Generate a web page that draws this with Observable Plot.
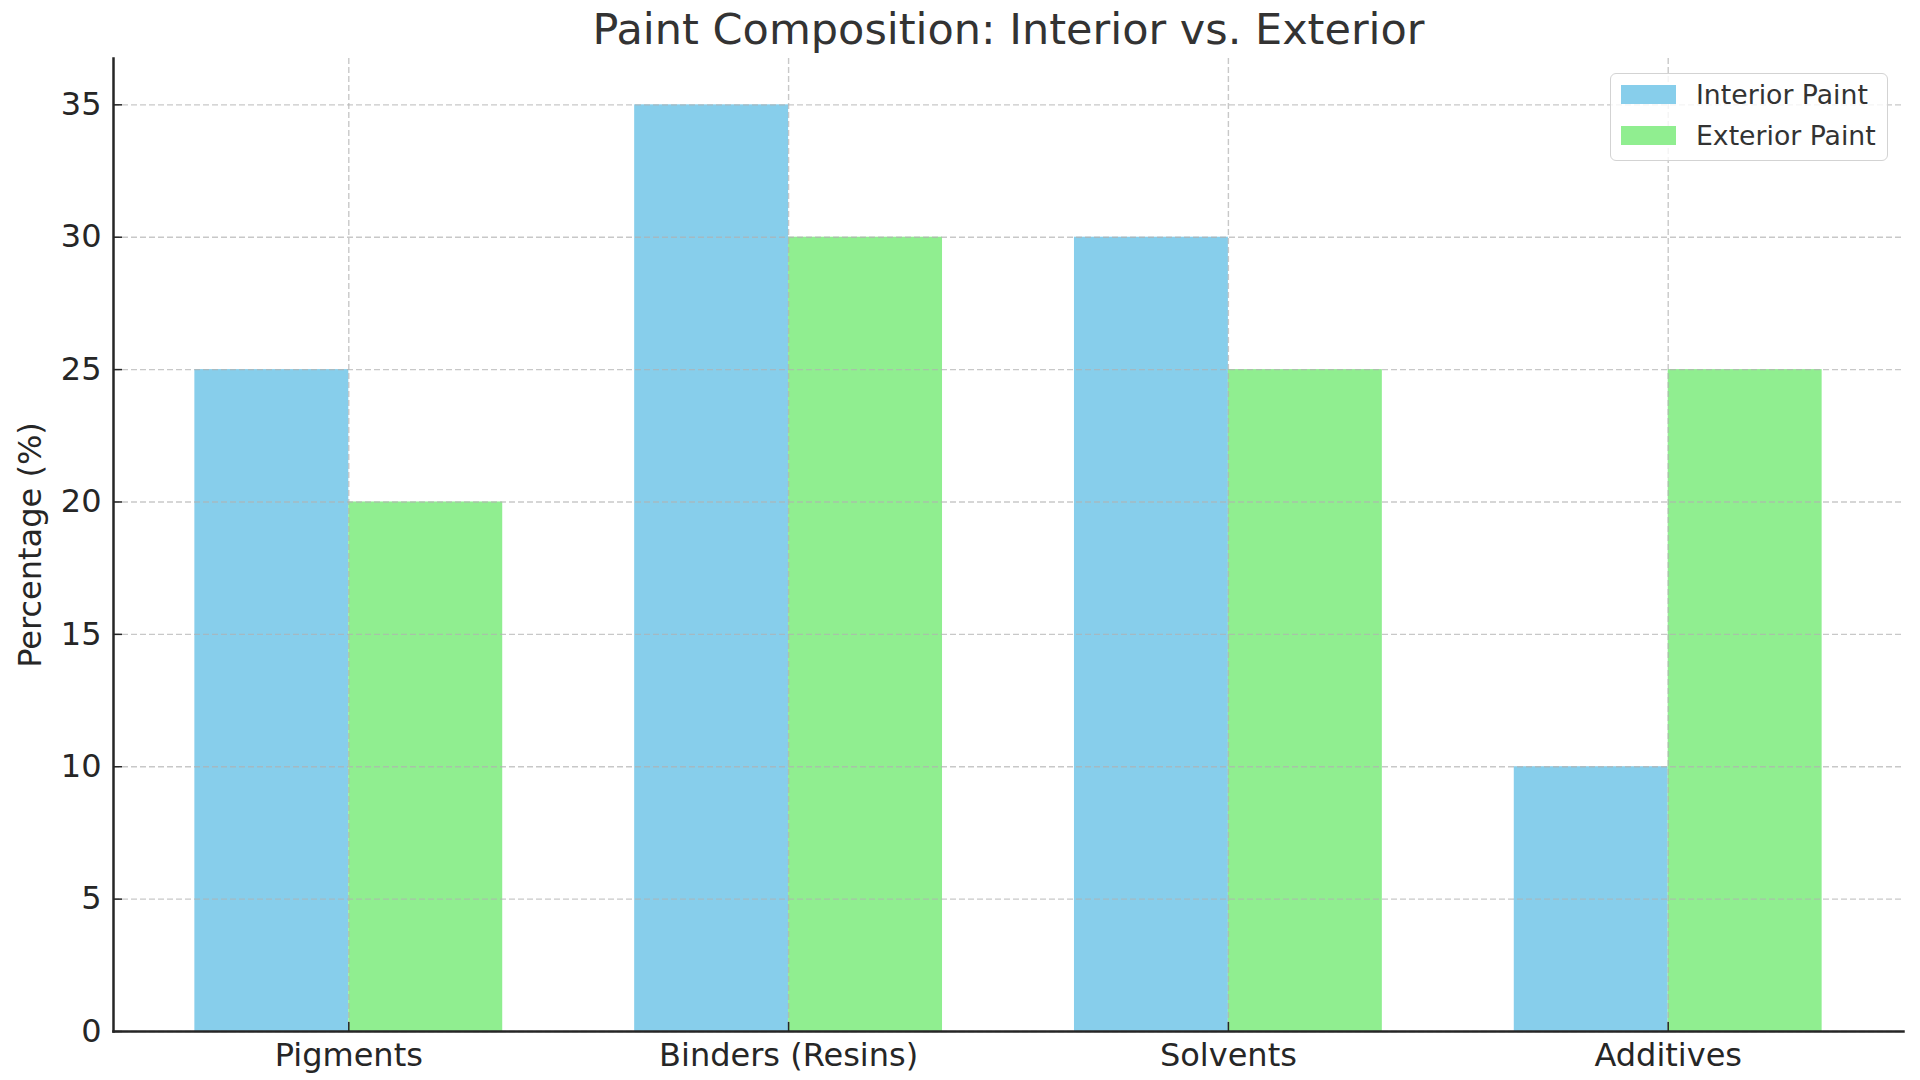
<!DOCTYPE html>
<html><head><meta charset="utf-8">
<script src="https://cdn.jsdelivr.net/npm/d3@7"></script>
<script src="https://cdn.jsdelivr.net/npm/@observablehq/plot@0.6"></script>
<style>
body{margin:0;background:#fff;}
#wrap{position:relative;width:1920px;height:1080px;font-family:"DejaVu Sans",sans-serif;}
#legend{position:absolute;left:1610px;top:73px;width:278px;height:88px;box-sizing:border-box;border:1.5px solid #d3d3d3;border-radius:6px;background:rgba(255,255,255,0.8);}
.item{position:absolute;left:10px;height:19px;display:flex;align-items:center;white-space:nowrap;}
.sw{width:55px;height:19px;flex:none;}
.lbl{margin-left:20px;font-size:26.7px;color:#333;line-height:19px;}
</style></head><body><div id="wrap"></div>
<script>
const title = "Paint Composition: Interior vs. Exterior";
const yLabel = "Percentage (%)";
const categories = ["Pigments", "Binders (Resins)", "Solvents", "Additives"];
const interior = [25, 35, 30, 10];
const exterior = [20, 30, 25, 25];
const seriesNames = ["Interior Paint", "Exterior Paint"];
const seriesColors = ["#87CEEB", "#90EE90"];
const yTicks = [0, 5, 10, 15, 20, 25, 30, 35];
const barWidth = 0.35;

const n = categories.length;
const rows = [];
categories.forEach((c, i) => {
  rows.push({cat: c, i, series: seriesNames[0], value: interior[i], x1: i - barWidth, x2: i});
  rows.push({cat: c, i, series: seriesNames[1], value: exterior[i], x1: i, x2: i + barWidth});
});
const span = (n - 1) + 2 * barWidth;
const xmin = -barWidth - 0.05 * span, xmax = (n - 1) + barWidth + 0.05 * span;
const ymax = d3.max([...interior, ...exterior]) * 1.05;
const idx = d3.range(n);
const gridStyle = {stroke: "#b0b0b0", strokeOpacity: 0.7, strokeDasharray: "6,3", strokeWidth: 1.4};

const plot = Plot.plot({
  width: 1920, height: 1080,
  marginLeft: 113, marginRight: 17, marginTop: 58, marginBottom: 49,
  style: {fontFamily: "DejaVu Sans, sans-serif", fontSize: "32px", color: "#262626", background: "#fff"},
  x: {type: "linear", domain: [xmin, xmax]},
  y: {domain: [0, ymax]},
  color: {domain: seriesNames, range: seriesColors},
  marks: [
    Plot.rectY(rows, {x1: "x1", x2: "x2", y1: 0, y2: "value", fill: "series"}),
    Plot.gridY(yTicks, gridStyle),
    Plot.gridX(idx, gridStyle),
    Plot.axisY(yTicks, {tickSize: -9, tickPadding: 21, strokeWidth: 1.5, fontSize: 32, label: yLabel, labelAnchor: "center", labelArrow: "none", labelOffset: 95}),
    Plot.axisX(idx, {tickSize: -9, tickPadding: 21, strokeWidth: 1.5, fontSize: 32, tickFormat: i => categories[i], label: null}),
    Plot.frame({anchor: "left", stroke: "#262626", strokeWidth: 2.5}),
    Plot.frame({anchor: "bottom", stroke: "#262626", strokeWidth: 2.5}),
    Plot.text([title], {frameAnchor: "top", dy: -45, fontSize: 43, fill: "#333"})
  ]
});
const wrap = document.getElementById("wrap");
wrap.appendChild(plot);

const legend = document.createElement("div");
legend.id = "legend";
seriesNames.forEach((s, k) => {
  const item = document.createElement("div");
  item.className = "item";
  item.style.top = (11 + k * 41) + "px";
  const sw = document.createElement("div");
  sw.className = "sw";
  sw.style.background = seriesColors[k];
  const lbl = document.createElement("span");
  lbl.className = "lbl";
  lbl.textContent = s;
  item.appendChild(sw);
  item.appendChild(lbl);
  legend.appendChild(item);
});
wrap.appendChild(legend);
</script>
</body></html>
